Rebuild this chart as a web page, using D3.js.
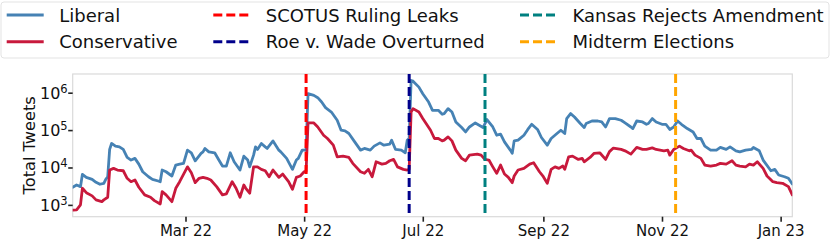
<!DOCTYPE html>
<html>
<head>
<meta charset="utf-8">
<script src="https://cdn.jsdelivr.net/npm/d3@7"></script>
<style>
  body { margin: 0; background: #ffffff; }
  text { font-family: "DejaVu Sans", sans-serif; fill: #111; }
</style>
</head>
<body>
<svg id="chart" width="831" height="240"></svg>
<script>
// days counted from 1 Jan 2022
var startDate = Date.UTC(2022, 0, 1);

var libDays = [1,3,5,6,8,11,13,15,17,18,19,20,21,23,25,27,29,31,33,35,37,40,42,45,46,47,49,52,54,56,58,60,62,64,67,68,69,71,74,76,78,80,82,84,87,89,91,92,94,95,96,98,100,101,104,107,108,111,114,116,117,119,120,121,122,125,127,129,131,134,137,139,141,143,146,149,151,154,156,159,161,164,165,167,170,172,173,174,175,176,179,181,184,186,189,191,192,194,196,198,201,203,205,208,210,212,214,217,219,221,223,226,227,228,230,233,235,237,240,242,245,247,250,252,254,255,257,259,262,264,265,268,271,273,275,277,280,283,285,288,289,291,294,296,297,299,301,304,306,308,310,312,314,317,320,322,324,326,329,332,334,337,339,342,344,347,350,351,354,356,360,362,364,367,369,371];
var libTweets = [2960,3400,3070,6560,5460,4830,4020,3560,3780,4830,5660,30400,43900,37200,35600,30400,18600,15800,17500,12300,7690,5660,4830,4350,4170,8550,7690,5920,11600,12300,12900,29100,24700,15100,23800,26200,32300,26200,24700,16400,10900,10900,24700,14200,8550,20100,15800,10400,21400,35600,30400,43900,35600,32300,51400,29100,26200,17500,8910,15800,17500,29100,29100,29100,940000,847000,736000,562000,398000,304000,183000,99100,95000,80900,48400,29100,32300,29100,37200,45500,39500,42100,53700,30400,29100,24700,53700,60000,2120000,2030000,1410000,940000,562000,338000,338000,265000,276000,375000,304000,165000,117000,89300,121000,155000,135000,117000,191000,121000,72900,77600,48400,29100,23800,51400,53700,72900,104000,143000,104000,63400,39500,59600,80900,99100,80900,203000,276000,224000,150000,117000,150000,175000,175000,165000,121000,203000,203000,183000,155000,121000,110000,175000,165000,143000,150000,203000,165000,143000,143000,104000,121000,175000,143000,110000,89300,59600,59600,37200,29100,29100,34400,30400,35600,27900,26200,29100,30400,34400,27900,15800,8180,8910,6300,5660,5140,3620];

var conDays = [1,3,5,6,8,11,13,16,17,19,20,22,24,27,29,31,33,35,38,41,43,46,47,49,52,54,56,60,62,64,66,68,70,72,75,78,80,83,85,87,89,90,92,94,96,98,100,102,104,107,109,112,114,116,118,120,121,122,125,127,130,132,135,137,140,143,145,149,151,153,155,157,160,162,164,166,168,171,173,174,175,176,179,181,185,187,189,191,192,194,196,198,201,203,205,209,211,213,215,217,219,221,223,225,227,228,230,233,236,238,241,243,245,247,249,251,253,254,256,258,261,263,264,267,269,272,275,277,279,283,285,288,291,294,296,299,301,305,307,308,310,313,315,318,319,321,324,326,329,332,334,337,340,342,344,347,349,351,353,356,358,361,363,366,369,371];
var conTweets = [720,736,1000,2780,2120,1740,1360,1220,1360,1600,8550,9480,8550,8180,5140,4170,4620,2960,1850,1600,1300,1060,2260,1850,1220,2780,4170,10400,7240,3930,5140,5460,5140,4620,3070,1850,1960,4170,2780,1600,3400,2780,2050,10400,10400,8910,8180,5660,8550,5460,6680,4170,2620,5460,5920,7690,7690,155000,155000,121000,72900,59600,39500,19300,20100,18600,12900,7690,6980,8910,5660,14200,12300,12900,15100,16400,10400,8910,8550,9000,304000,375000,304000,203000,99100,59600,59600,51400,53700,65800,51400,29100,17500,15100,21400,22800,21400,16400,15800,10400,6980,11600,6680,5460,3930,5920,8550,9480,12300,13400,7690,5660,3780,8910,10400,9480,10900,8910,19300,20100,16400,17500,14200,18600,23800,24700,16400,26500,33000,30400,27900,22800,34400,30400,30400,33500,30400,27900,29100,21400,30400,37200,32300,27900,29100,21400,17500,11600,10900,11600,12900,12300,15100,11600,10900,10400,12300,11600,14200,9480,5920,4170,3930,3780,3070,1850];

var eventNames = ["SCOTUS Ruling Leaks", "Roe v. Wade Overturned", "Kansas Rejects Amendment", "Midterm Elections"];
var eventDays = [121, 174, 213, 311];
var eventColors = ["#ff0000", "#00008b", "#008080", "#ffa500"];

var seriesNames = ["Liberal", "Conservative"];
var seriesColors = ["#4682b4", "#c8193c"];

var xTickDates = ["2022-03-01", "2022-05-01", "2022-07-01", "2022-09-01", "2022-11-01", "2023-01-01"];
var yTickValues = [1e3, 1e4, 1e5, 1e6];

// ---- layout
var W = 831, H = 240;
var margin = {top: 74, right: 38.7, bottom: 23.3, left: 72.7};
var pw = W - margin.left - margin.right;
var ph = H - margin.top - margin.bottom;

function toDate(day) { return new Date(startDate + day * 86400000); }

var liberal = libDays.map(function(d, i){ return {date: toDate(d), value: libTweets[i]}; });
var conservative = conDays.map(function(d, i){ return {date: toDate(d), value: conTweets[i]}; });
var allPts = liberal.concat(conservative);

var svg = d3.select("#chart");

var x = d3.scaleUtc()
  .domain(d3.extent(allPts, function(d){ return d.date; }))
  .range([margin.left, margin.left + pw]);

// matplotlib style 5% margin in log space
var lo = Math.log10(d3.min(allPts, function(d){ return d.value; }));
var hi = Math.log10(d3.max(allPts, function(d){ return d.value; }));
var pad = (hi - lo) * 0.05;
var y = d3.scaleLog()
  .domain([Math.pow(10, lo - pad), Math.pow(10, hi + pad)])
  .range([margin.top + ph, margin.top]);

// ---- legend
var legend = svg.append("g").attr("class", "legend");
legend.append("rect")
  .attr("x", 1).attr("y", 2).attr("width", 828).attr("height", 56).attr("rx", 3)
  .attr("fill", "#fff").attr("stroke", "#e3e3e3").attr("stroke-width", 1);

var legendItems = [
  {name: seriesNames[0], color: seriesColors[0], dash: null, col: 0, row: 0},
  {name: seriesNames[1], color: seriesColors[1], dash: null, col: 0, row: 1},
  {name: eventNames[0], color: eventColors[0], dash: "9,4", col: 1, row: 0},
  {name: eventNames[1], color: eventColors[1], dash: "9,4", col: 1, row: 1},
  {name: eventNames[2], color: eventColors[2], dash: "9,4", col: 2, row: 0},
  {name: eventNames[3], color: eventColors[3], dash: "9,4", col: 2, row: 1}
];
var colX = [6.7, 213.3, 520];
var rowY = [15, 41.7];
legendItems.forEach(function(it){
  var lx = colX[it.col], ly = rowY[it.row];
  legend.append("line")
    .attr("x1", lx).attr("x2", lx + 37).attr("y1", ly).attr("y2", ly)
    .attr("stroke", it.color).attr("stroke-width", 3)
    .attr("stroke-dasharray", it.dash);
  legend.append("text")
    .attr("x", lx + 52.5).attr("y", ly + 6.6)
    .attr("font-size", 18)
    .text(it.name);
});

// ---- plot frame
svg.append("defs").append("clipPath").attr("id", "clip")
  .append("rect").attr("x", margin.left).attr("y", margin.top).attr("width", pw).attr("height", ph);

svg.append("rect")
  .attr("x", margin.left).attr("y", margin.top).attr("width", pw).attr("height", ph)
  .attr("fill", "none").attr("stroke", "#dadada").attr("stroke-width", 1.2);

// ---- series
var line = d3.line()
  .x(function(d){ return x(d.date); })
  .y(function(d){ return y(d.value); });

var plot = svg.append("g").attr("clip-path", "url(#clip)");
[liberal, conservative].forEach(function(series, i){
  plot.append("path")
    .datum(series)
    .attr("d", line)
    .attr("fill", "none")
    .attr("stroke", seriesColors[i])
    .attr("stroke-width", 2.8)
    .attr("stroke-linejoin", "round")
    .attr("stroke-linecap", "round");
});

// ---- event markers
eventDays.forEach(function(day, i){
  var ex = x(toDate(day));
  plot.append("line")
    .attr("x1", ex).attr("x2", ex)
    .attr("y1", margin.top).attr("y2", margin.top + ph)
    .attr("stroke", eventColors[i]).attr("stroke-width", 3)
    .attr("stroke-dasharray", "9,4");
});

// ---- axes
var xAxis = d3.axisBottom(x)
  .tickValues(xTickDates.map(function(s){ return new Date(s + "T00:00:00Z"); }))
  .tickFormat(d3.utcFormat("%b %y"))
  .tickSize(5)
  .tickPadding(3.2);
var gx = svg.append("g")
  .attr("transform", "translate(0," + (margin.top + ph) + ")")
  .call(xAxis);
gx.select(".domain").remove();
gx.selectAll(".tick line").attr("stroke", "#222").attr("stroke-width", 1.6);
gx.selectAll(".tick text").attr("font-size", 15).attr("font-family", "DejaVu Sans").attr("fill", "#111");

var yAxis = d3.axisLeft(y)
  .tickValues(yTickValues)
  .tickFormat("")
  .tickSize(4.5);
var gy = svg.append("g")
  .attr("transform", "translate(" + margin.left + ",0)")
  .call(yAxis);
gy.select(".domain").remove();
gy.selectAll(".tick line").attr("stroke", "#222").attr("stroke-width", 1.6);
gy.selectAll(".tick text").remove();

yTickValues.forEach(function(v){
  var t = svg.append("text")
    .attr("x", margin.left - 5)
    .attr("y", y(v) + 5.9)
    .attr("text-anchor", "end")
    .attr("font-size", 16);
  t.append("tspan").text("10");
  t.append("tspan").attr("font-size", 11.5).attr("dy", -6).text(String(Math.round(Math.log10(v))));
});

svg.append("text")
  .attr("transform", "translate(35," + (margin.top + ph / 2) + ") rotate(-90)")
  .attr("text-anchor", "middle")
  .attr("font-size", 16.2)
  .text("Total Tweets");
</script>
</body>
</html>
